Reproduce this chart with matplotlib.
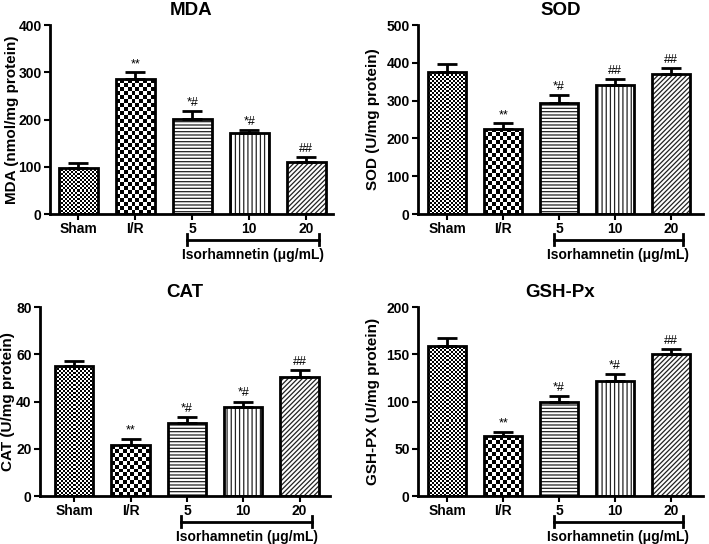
import numpy as np
import matplotlib
matplotlib.use('Agg')
import matplotlib.pyplot as plt
import matplotlib.transforms as mtransforms

plt.rcParams['font.family'] = ['Liberation Sans', 'DejaVu Sans']
plt.rcParams['hatch.linewidth'] = 0.9

# values
groups = ['Sham', 'I/R', '5', '10', '20']
mda = [98, 285, 202, 171, 110]
mda_err = [9, 15, 16, 7, 10]
sod = [375, 226, 293, 341, 370]
sod_err = [22, 14, 22, 15, 15]
cat = [55, 21.5, 31, 37.8, 50.3]
cat_err = [2.3, 2.8, 2.5, 2.2, 3.2]
gsh = [159, 63, 99.5, 122, 150]
gsh_err = [8, 5, 6, 7, 6]
marks = ['', '**', '*#', '*#', '##']
sod_marks = ['', '**', '*#', '##', '##']

panels = [
    dict(title='MDA', ylabel='MDA (nmol/mg protein)', vals=mda, err=mda_err, marks=marks,
         ylim=400, step=100, rect=[0.0705, 0.6066, 0.3992, 0.3474], xlim=(-0.5, 4.47), lx=-0.11),
    dict(title='SOD', ylabel='SOD (U/mg protein)', vals=sod, err=sod_err, marks=sod_marks,
         ylim=500, step=100, rect=[0.5896, 0.6066, 0.402, 0.3474], xlim=(-0.52, 4.57), lx=-0.133),
    dict(title='CAT', ylabel='CAT (U/mg protein)', vals=cat, err=cat_err, marks=marks,
         ylim=80, step=20, rect=[0.0564, 0.0882, 0.409, 0.3474], xlim=(-0.61, 4.54), lx=-0.086),
    dict(title='GSH-Px', ylabel='GSH-PX (U/mg protein)', vals=gsh, err=gsh_err, marks=marks,
         ylim=200, step=50, rect=[0.5896, 0.0882, 0.402, 0.3474], xlim=(-0.52, 4.57), lx=-0.133),
]

hatches = [None, None, '-----', '||||', '///////']
checker_px = {0: 2.0, 1: 4.0}  # checkerboard cell size in pixels
bw = 0.68

fig = plt.figure(figsize=(7.09, 5.44), dpi=100)

for p in panels:
    ax = fig.add_axes(p['rect'])
    x = np.arange(len(groups))
    ax.set_xlim(*p['xlim'])
    ax.set_ylim(0, p['ylim'])

    bars = ax.bar(x, p['vals'], width=bw, color='white', edgecolor='none', zorder=1)
    for b, h in zip(bars, hatches):
        if h:
            b.set_hatch(h)
            b.set_edgecolor('#222222')
            b.set_linewidth(0)

    # checkerboard fills for Sham and I/R
    fig.canvas.draw()
    for i, cell in checker_px.items():
        b = bars[i]
        x0, x1 = x[i] - bw / 2, x[i] + bw / 2
        p0 = ax.transData.transform((x0, 0))
        p1 = ax.transData.transform((x1, p['vals'][i]))
        nc = max(1, int(round((p1[0] - p0[0]) / cell)))
        nr = max(1, int(round((p1[1] - p0[1]) / cell)))
        board = (np.add.outer(np.arange(nr), np.arange(nc)) % 2).astype(float)
        im = ax.imshow(board, extent=(x0, x1, 0, p['vals'][i]), cmap='gray',
                       interpolation='nearest', aspect='auto', zorder=1.5, origin='lower')
        im.set_clip_path(b)

    ax.bar(x, p['vals'], width=bw, fill=False, edgecolor='black', linewidth=2, zorder=3)
    ax.errorbar(x, p['vals'], yerr=[[0] * len(x), p['err']], fmt='none', ecolor='black',
                elinewidth=2, capsize=7, capthick=2, zorder=2.5)

    for xi, v, e, m in zip(x, p['vals'], p['err'], p['marks']):
        if m:
            ax.annotate(m, (xi, v + e), xytext=(0, 1.5), textcoords='offset points',
                        ha='center', va='bottom', fontsize=9)

    ax.set_xlim(*p['xlim'])
    ax.set_ylim(0, p['ylim'])
    ax.set_yticks(np.arange(0, p['ylim'] + 1, p['step']))
    ax.set_xticks(x)
    ax.set_xticklabels(groups, fontsize=10, fontweight='bold')
    for t in ax.get_yticklabels():
        t.set_fontsize(10)
        t.set_fontweight('bold')
    ax.tick_params(width=1.5, length=4, pad=2)
    ax.set_ylabel(p['ylabel'], fontsize=11, fontweight='bold')
    ax.yaxis.set_label_coords(p['lx'], 0.5)
    ax.set_title(p['title'], fontsize=13.5, fontweight='bold', pad=7)
    for s in ['top', 'right']:
        ax.spines[s].set_visible(False)
    for s in ['left', 'bottom']:
        ax.spines[s].set_linewidth(2)

    # dose bracket under the isorhamnetin groups
    tr = mtransforms.blended_transform_factory(ax.transData, ax.transAxes)
    ax.plot([1.9, 4.22], [-0.135, -0.135], color='black', lw=2, transform=tr, clip_on=False)
    for bx in [1.9, 4.22]:
        ax.plot([bx, bx], [-0.105, -0.165], color='black', lw=2, transform=tr, clip_on=False)
    ax.text(3.06, -0.215, 'Isorhamnetin (μg/mL)', transform=tr, ha='center', va='center',
            fontsize=10, fontweight='bold')

fig.savefig('out.png', dpi=100)
